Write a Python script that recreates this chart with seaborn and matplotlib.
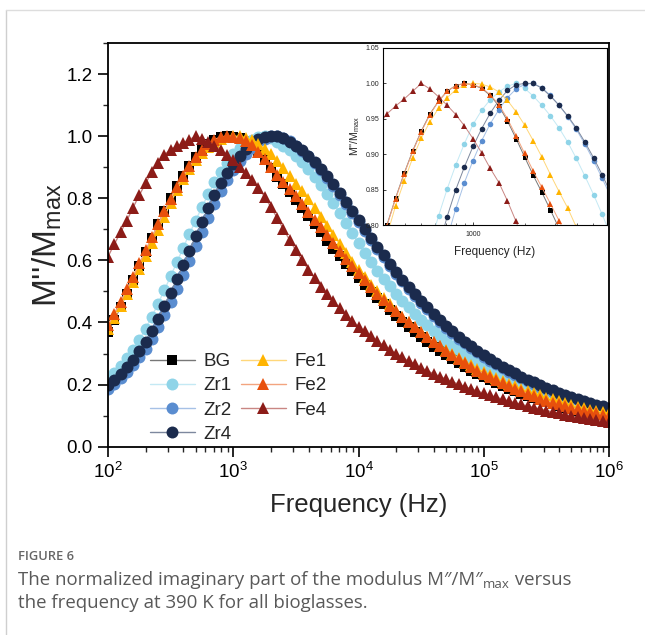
import numpy as np
import matplotlib
matplotlib.use("Agg")
import matplotlib.pyplot as plt
import matplotlib.ticker as mticker
from matplotlib.lines import Line2D
import seaborn as sns

# frequency grid (Hz), 20 points per decade
freq = [
    100, 112.2, 125.9, 141.3, 158.5, 177.8, 199.5, 223.9, 251.2, 281.8,
    316.2, 354.8, 398.1, 446.7, 501.2, 562.3, 631.0, 707.9, 794.3, 891.3,
    1000, 1122, 1259, 1413, 1585, 1778, 1995, 2239, 2512, 2818,
    3162, 3548, 3981, 4467, 5012, 5623, 6310, 7079, 7943, 8913,
    10000, 11220, 12590, 14130, 15850, 17780, 19950, 22390, 25120, 28180,
    31620, 35480, 39810, 44670, 50120, 56230, 63100, 70790, 79430, 89130,
    100000, 112200, 125900, 141300, 158500, 177800, 199500, 223900, 251200, 281800,
    316200, 354800, 398100, 446700, 501200, 562300, 631000, 707900, 794300, 891300,
    1000000,
]

bg = [
    0.369, 0.408, 0.450, 0.493, 0.537, 0.582, 0.627, 0.672, 0.716, 0.759,
    0.800, 0.838, 0.873, 0.905, 0.933, 0.957, 0.975, 0.989, 0.997, 1.000,
    0.998, 0.993, 0.983, 0.968, 0.947, 0.922, 0.896, 0.870, 0.846, 0.821,
    0.795, 0.769, 0.742, 0.716, 0.690, 0.664, 0.638, 0.613, 0.589, 0.565,
    0.542, 0.520, 0.498, 0.478, 0.458, 0.439, 0.420, 0.402, 0.385, 0.368,
    0.352, 0.337, 0.322, 0.308, 0.294, 0.281, 0.269, 0.257, 0.245, 0.234,
    0.224, 0.215, 0.205, 0.196, 0.187, 0.179, 0.171, 0.163, 0.156, 0.149,
    0.143, 0.137, 0.131, 0.125, 0.120, 0.115, 0.110, 0.106, 0.102, 0.098,
    0.094,
]
zr1 = [
    0.215, 0.238, 0.261, 0.285, 0.313, 0.344, 0.380, 0.419, 0.461, 0.504,
    0.549, 0.594, 0.640, 0.686, 0.728, 0.772, 0.813, 0.851, 0.885, 0.915,
    0.942, 0.962, 0.977, 0.988, 0.996, 1.000, 0.993, 0.982, 0.969, 0.954,
    0.937, 0.917, 0.894, 0.869, 0.843, 0.815, 0.785, 0.753, 0.720, 0.687,
    0.655, 0.624, 0.595, 0.567, 0.541, 0.516, 0.492, 0.470, 0.449, 0.428,
    0.409, 0.391, 0.373, 0.356, 0.340, 0.325, 0.310, 0.296, 0.283, 0.270,
    0.258, 0.248, 0.238, 0.229, 0.220, 0.211, 0.203, 0.195, 0.187, 0.180,
    0.172, 0.166, 0.159, 0.153, 0.147, 0.141, 0.135, 0.130, 0.125, 0.120,
    0.115,
]
zr2 = [
    0.185, 0.203, 0.221, 0.241, 0.263, 0.288, 0.316, 0.348, 0.384, 0.423,
    0.465, 0.509, 0.554, 0.599, 0.645, 0.691, 0.737, 0.781, 0.823, 0.860,
    0.891, 0.919, 0.943, 0.963, 0.980, 0.992, 0.999, 1.000, 0.994, 0.983,
    0.969, 0.953, 0.935, 0.914, 0.891, 0.866, 0.840, 0.812, 0.783, 0.753,
    0.723, 0.694, 0.665, 0.637, 0.610, 0.583, 0.557, 0.532, 0.508, 0.485,
    0.463, 0.442, 0.422, 0.402, 0.383, 0.365, 0.348, 0.333, 0.318, 0.304,
    0.290, 0.277, 0.265, 0.253, 0.242, 0.231, 0.221, 0.211, 0.202, 0.193,
    0.185, 0.177, 0.170, 0.163, 0.156, 0.149, 0.143, 0.137, 0.131, 0.126,
    0.121,
]
zr4 = [
    0.198, 0.215, 0.235, 0.256, 0.280, 0.307, 0.337, 0.372, 0.411, 0.452,
    0.495, 0.540, 0.585, 0.631, 0.677, 0.723, 0.768, 0.812, 0.850, 0.882,
    0.911, 0.936, 0.958, 0.976, 0.990, 0.998, 1.000, 1.000, 0.993, 0.982,
    0.969, 0.954, 0.937, 0.917, 0.895, 0.871, 0.845, 0.817, 0.788, 0.759,
    0.729, 0.700, 0.671, 0.643, 0.616, 0.589, 0.563, 0.538, 0.514, 0.491,
    0.469, 0.449, 0.428, 0.408, 0.389, 0.371, 0.354, 0.338, 0.323, 0.309,
    0.295, 0.282, 0.270, 0.258, 0.247, 0.236, 0.226, 0.216, 0.207, 0.198,
    0.190, 0.182, 0.174, 0.167, 0.160, 0.153, 0.147, 0.141, 0.135, 0.130,
    0.125,
]
fe1 = [
    0.380, 0.415, 0.452, 0.491, 0.531, 0.572, 0.614, 0.656, 0.698, 0.740,
    0.785, 0.827, 0.862, 0.895, 0.923, 0.946, 0.965, 0.980, 0.991, 0.998,
    1.000, 0.999, 0.995, 0.988, 0.976, 0.960, 0.941, 0.919, 0.896, 0.871,
    0.847, 0.824, 0.797, 0.768, 0.739, 0.710, 0.681, 0.652, 0.623, 0.595,
    0.568, 0.545, 0.522, 0.500, 0.479, 0.458, 0.438, 0.419, 0.400, 0.384,
    0.368, 0.353, 0.338, 0.324, 0.310, 0.297, 0.285, 0.273, 0.262, 0.251,
    0.241, 0.231, 0.221, 0.212, 0.203, 0.195, 0.187, 0.179, 0.172, 0.165,
    0.158, 0.152, 0.146, 0.140, 0.134, 0.129, 0.124, 0.119, 0.115, 0.111,
    0.107,
]
fe2 = [
    0.392, 0.428, 0.467, 0.507, 0.548, 0.590, 0.632, 0.674, 0.716, 0.758,
    0.799, 0.837, 0.872, 0.904, 0.932, 0.956, 0.975, 0.989, 0.997, 1.000,
    0.998, 0.994, 0.984, 0.970, 0.950, 0.926, 0.901, 0.876, 0.853, 0.830,
    0.806, 0.781, 0.756, 0.731, 0.707, 0.682, 0.656, 0.631, 0.606, 0.582,
    0.558, 0.536, 0.514, 0.493, 0.473, 0.454, 0.436, 0.418, 0.401, 0.385,
    0.369, 0.354, 0.338, 0.323, 0.309, 0.295, 0.282, 0.269, 0.257, 0.245,
    0.234, 0.224, 0.214, 0.204, 0.195, 0.186, 0.178, 0.170, 0.162, 0.155,
    0.148, 0.142, 0.136, 0.130, 0.125, 0.120, 0.115, 0.111, 0.107, 0.103,
    0.099,
]
fe4 = [
    0.612, 0.652, 0.690, 0.728, 0.770, 0.810, 0.848, 0.885, 0.915, 0.940,
    0.957, 0.968, 0.978, 0.989, 1.000, 0.992, 0.981, 0.969, 0.956, 0.940,
    0.922, 0.902, 0.880, 0.860, 0.834, 0.805, 0.772, 0.737, 0.701, 0.666,
    0.632, 0.600, 0.570, 0.542, 0.515, 0.491, 0.468, 0.446, 0.425, 0.406,
    0.387, 0.371, 0.355, 0.340, 0.326, 0.313, 0.300, 0.288, 0.276, 0.265,
    0.254, 0.244, 0.235, 0.226, 0.217, 0.209, 0.201, 0.193, 0.186, 0.179,
    0.172, 0.165, 0.159, 0.153, 0.147, 0.141, 0.136, 0.131, 0.126, 0.121,
    0.116, 0.112, 0.107, 0.103, 0.099, 0.095, 0.092, 0.088, 0.085, 0.082,
    0.079,
]

names = ["BG", "Zr1", "Zr2", "Zr4", "Fe1", "Fe2", "Fe4"]
values = [bg, zr1, zr2, zr4, fe1, fe2, fe4]
colors = ["#000000", "#8fd4e8", "#5a8dd0", "#1b2b4d", "#ffb400", "#e8500c", "#8c1c18"]
line_colors = ["#777777", "#c4e9f4", "#a6c1e6", "#7d889e", "#ffd77a", "#f3a47f", "#c98683"]
markers = ["s", "o", "o", "o", "^", "^", "^"]
main_ms = [7.0, 8.6, 8.6, 8.6, 9.2, 9.2, 9.2]
inset_ms = [3.6, 4.0, 4.0, 4.0, 4.4, 4.4, 4.4]

sns.set_theme(style="ticks")
plt.rcParams["font.family"] = ["Liberation Sans", "DejaVu Sans"]
plt.rcParams["mathtext.fontset"] = "custom"
plt.rcParams["mathtext.rm"] = "Liberation Sans"
plt.rcParams["mathtext.it"] = "Liberation Sans:italic"
plt.rcParams["mathtext.bf"] = "Liberation Sans:bold"

W, H = 645, 635
fig = plt.figure(figsize=(W / 100, H / 100), dpi=100)
fig.patch.set_facecolor("white")

# main axes
ax = fig.add_axes([108 / W, 1 - 446.7 / H, 501 / W, 403.7 / H])
for name, vals, c, lc, m, ms in zip(names, values, colors, line_colors, markers, main_ms):
    assert len(vals) == len(freq), name
    sns.lineplot(
        x=freq, y=vals, ax=ax, color=lc, linewidth=1.0,
        marker=m, markersize=ms, markerfacecolor=c, markeredgecolor=c,
        markeredgewidth=0, label=name,
    )

ax.set_xscale("log")
ax.set_xlim(100, 1e6)
ax.set_ylim(0, 1.3)
ax.set_yticks([0.0, 0.2, 0.4, 0.6, 0.8, 1.0, 1.2])
ax.yaxis.set_major_formatter(mticker.FormatStrFormatter("%.1f"))
ax.yaxis.set_minor_locator(mticker.MultipleLocator(0.1))
ax.xaxis.set_major_locator(mticker.LogLocator(base=10, numticks=10))
ax.xaxis.set_minor_locator(mticker.LogLocator(base=10, subs=np.arange(2, 10), numticks=20))
ax.tick_params(which="major", direction="out", length=7, width=1.2, labelsize=13.5,
               colors="black", pad=4)
ax.tick_params(which="minor", direction="out", length=3.5, width=1.0)
ax.tick_params(top=False, right=False, which="both")
for sp in ax.spines.values():
    sp.set_linewidth(1.3)
    sp.set_color("black")
ax.set_xlabel("Frequency (Hz)", fontsize=18.5, labelpad=8)
ax.set_ylabel(r"M''/M$_{\rm max}$", fontsize=24, labelpad=2)

handles, labels = ax.get_legend_handles_labels()
ax.legend(handles, labels, ncol=2, loc="upper left", bbox_to_anchor=(0.083, 0.232),
          frameon=False, fontsize=13.5, handlelength=2.4, handletextpad=0.45,
          columnspacing=0.5, labelspacing=0.38, borderpad=0, borderaxespad=0)

# inset
axi = fig.add_axes([383 / W, 1 - 225 / H, 224 / W, 177 / H], zorder=5)
axi.set_facecolor("white")
for name, vals, c, lc, m, ms in zip(names, values, colors, line_colors, markers, inset_ms):
    sns.lineplot(
        x=freq, y=vals, ax=axi, color=lc, linewidth=0.7,
        marker=m, markersize=ms, markerfacecolor=c, markeredgecolor=c,
        markeredgewidth=0, legend=False,
    )
axi.set_xscale("log")
axi.set_xlim(300, 6000)
axi.set_ylim(0.80, 1.05)
axi.set_yticks([0.80, 0.85, 0.90, 0.95, 1.00, 1.05])
axi.yaxis.set_major_formatter(mticker.FormatStrFormatter("%.2f"))
axi.xaxis.set_major_locator(mticker.FixedLocator([1000]))
axi.xaxis.set_major_formatter(mticker.FixedFormatter(["1000"]))
axi.xaxis.set_minor_locator(mticker.LogLocator(base=10, subs=np.arange(2, 10), numticks=20))
axi.xaxis.set_minor_formatter(mticker.NullFormatter())
axi.tick_params(which="major", direction="in", length=2.5, width=0.6, labelsize=5, pad=2.5)
axi.tick_params(axis="x", which="major", pad=4)
axi.tick_params(which="minor", direction="in", length=1.5, width=0.5)
for sp in axi.spines.values():
    sp.set_linewidth(0.8)
    sp.set_color("black")
axi.set_xlabel("Frequency (Hz)", fontsize=8.5, labelpad=6)
axi.set_ylabel(r"M''/M$_{\rm max}$", fontsize=7.5, labelpad=3)

# page frame and caption
fig.add_artist(Line2D([6 / W, 6 / W], [0, 1 - 10 / H], color="#cfcfcf", lw=1.0))
fig.add_artist(Line2D([6 / W, 1], [1 - 10 / H, 1 - 10 / H], color="#dddddd", lw=1.0))

cap_color = "#595959"
cap_font = ["Open Sans", "DejaVu Sans"]
cap_size = 13.4
fig.text(18 / W, 1 - 557 / H, "FIGURE 6", fontsize=9.3, color="#666666",
         family=cap_font, fontweight="semibold", va="center")
t1 = fig.text(18 / W, 1 - 580 / H, "The normalized imaginary part of the modulus M\u2033/M\u2033",
              fontsize=cap_size, color=cap_color, family=cap_font, va="center")
fig.canvas.draw()
renderer = fig.canvas.get_renderer()
bb = t1.get_window_extent(renderer)
t2 = fig.text(bb.x1 / W, 1 - 585 / H, "max", fontsize=9.5, color=cap_color,
              family=cap_font, va="center")
bb2 = t2.get_window_extent(renderer)
fig.text(bb2.x1 / W, 1 - 580 / H, " versus", fontsize=cap_size, color=cap_color,
         family=cap_font, va="center")
fig.text(18 / W, 1 - 603 / H, "the frequency at 390 K for all bioglasses.",
         fontsize=cap_size, color=cap_color, family=cap_font, va="center")

fig.savefig("out.png", dpi=100, facecolor="white")
